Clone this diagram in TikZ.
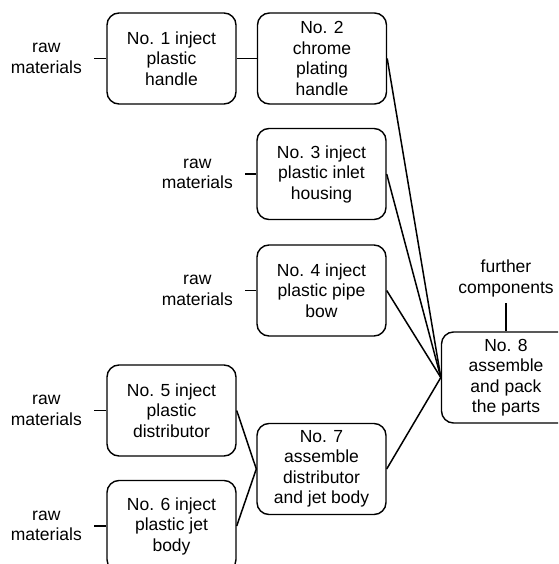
\documentclass[tikz,border=0pt]{standalone}
\usepackage{fontspec}
\setmainfont{Liberation Sans}
\begin{document}
\begin{tikzpicture}[x=1pt,y=-1pt,
  box/.style={draw, line width=1.4pt, rounded corners=12pt, minimum width=129pt,
    minimum height=91pt, inner sep=0pt, align=center,
    font=\fontsize{17.5}{20.5}\selectfont},
  lbl/.style={align=center, inner xsep=12pt, inner ysep=0pt,
    font=\fontsize{17.5}{20.5}\selectfont},
  conn/.style={line width=1.5pt}]
\useasboundingbox (0,0) rectangle (558,564);
\clip (0,0) rectangle (558,564);
% boxes
\node[box] (b1) at (171.5,58.5) {No. 1 inject\\plastic\\handle};
\node[box] (b2) at (322,58.5) {No. 2\\chrome\\plating\\handle};
\node[box] (b3) at (321.5,174) {No. 3 inject\\plastic inlet\\housing};
\node[box] (b4) at (321.5,290.5) {No. 4 inject\\plastic pipe\\bow};
\node[box] (b5) at (171.5,410.5) {No. 5 inject\\plastic\\distributor};
\node[box] (b6) at (171.5,526) {No. 6 inject\\plastic jet\\body};
\node[box] (b7) at (321.5,469) {No. 7\\assemble\\distributor\\and jet body};
\node[box] (b8) at (506,377.5) {No. 8\\assemble\\and pack\\the parts};
% labels
\node[lbl, anchor=east] (r1) at (94,58.5) {raw\\materials};
\node[lbl, anchor=east] (r3) at (245,174) {raw\\materials};
\node[lbl, anchor=east] (r4) at (245,290.5) {raw\\materials};
\node[lbl, anchor=east] (r5) at (94,410.5) {raw\\materials};
\node[lbl, anchor=east] (r6) at (94,526) {raw\\materials};
\node[lbl, anchor=south, inner ysep=6pt] (fc) at (506,303) {further\\components};
% connectors
\draw[conn] (r1.east) -- (b1.west);
\draw[conn] (r3.east) -- (b3.west);
\draw[conn] (r4.east) -- (b4.west);
\draw[conn] (r5.east) -- (b5.west);
\draw[conn] (r6.east) -- (b6.west);
\draw[conn] (b1.east) -- (b2.west);
\draw[conn] (b2.east) -- (b8.west);
\draw[conn] (b3.east) -- (b8.west);
\draw[conn] (b4.east) -- (b8.west);
\draw[conn] (b7.east) -- (b8.west);
\draw[conn] (b5.east) -- (b7.west);
\draw[conn] (b6.east) -- (b7.west);
\draw[conn] (fc.south) -- (b8.north);
\end{tikzpicture}
\end{document}
